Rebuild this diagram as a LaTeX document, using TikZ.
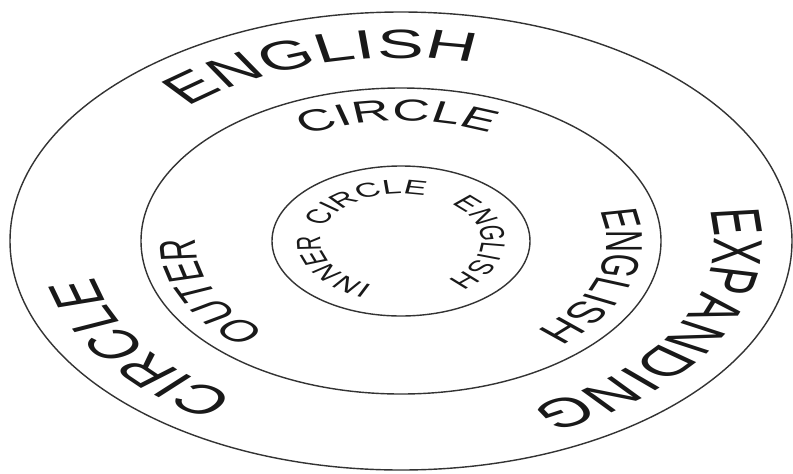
\documentclass[tikz,border=0pt]{standalone}
\usepackage{fontspec}
\setmainfont{Liberation Sans}
\usetikzlibrary{decorations.text}

\begin{document}
\begin{tikzpicture}[
  ring/.style={line width=0.8pt,black!80},
  outerword/.style={decorate,decoration={text along path,text align=center,
      text color=black!90,text={|\fontsize{23.3}{28}\selectfont|#1}}},
  middleword/.style={decorate,decoration={text along path,text align=center,
      text color=black!90,text={|\fontsize{17.3}{21}\selectfont|#1}}},
  innerword/.style={decorate,decoration={text along path,text align=center,
      text color=black!90,text={|\fontsize{11.4}{14}\selectfont|#1}}}
]
\useasboundingbox (-8.02,-4.64) rectangle (7.84,4.82);
\coordinate (O) at (0,0);

% three rings
\draw[ring] (O) ellipse [x radius=7.82, y radius=4.58];
\draw[ring] (O) ellipse [x radius=5.20, y radius=3.06];
\draw[ring] (O) ellipse [x radius=2.58, y radius=1.50];

% words, set on circles and then stretched sideways
\begin{scope}[transform canvas={xscale=1.71}]
  % outer ring
  \path[outerword=ENGLISH]   (O) ++(174.7:3.66) arc[start angle=174.7, end angle=34.7, radius=3.66];
  \path[outerword=EXPANDING] (O) ++(42:3.66)    arc[start angle=42, end angle=-98, radius=3.66];
  \path[outerword=CIRCLE]    (O) ++(285:3.66)   arc[start angle=285, end angle=145, radius=3.66];
  % middle ring
  \path[middleword=OUTER]    (O) ++(274:2.40)   arc[start angle=274, end angle=134, radius=2.40];
  \path[middleword=CIRCLE]   (O) ++(161:2.40)   arc[start angle=161, end angle=21, radius=2.40];
  \path[middleword=ENGLISH]  (O) ++(53:2.40)    arc[start angle=53, end angle=-87, radius=2.40];
  % inner ring
  \path[innerword=INNER]     (O) ++(281.6:0.94) arc[start angle=281.6, end angle=141.6, radius=0.94];
  \path[innerword=CIRCLE]    (O) ++(187.5:0.94) arc[start angle=187.5, end angle=47.5, radius=0.94];
  \path[innerword=ENGLISH]   (O) ++(68.4:0.94)  arc[start angle=68.4, end angle=-71.6, radius=0.94];
\end{scope}
\end{tikzpicture}
\end{document}
